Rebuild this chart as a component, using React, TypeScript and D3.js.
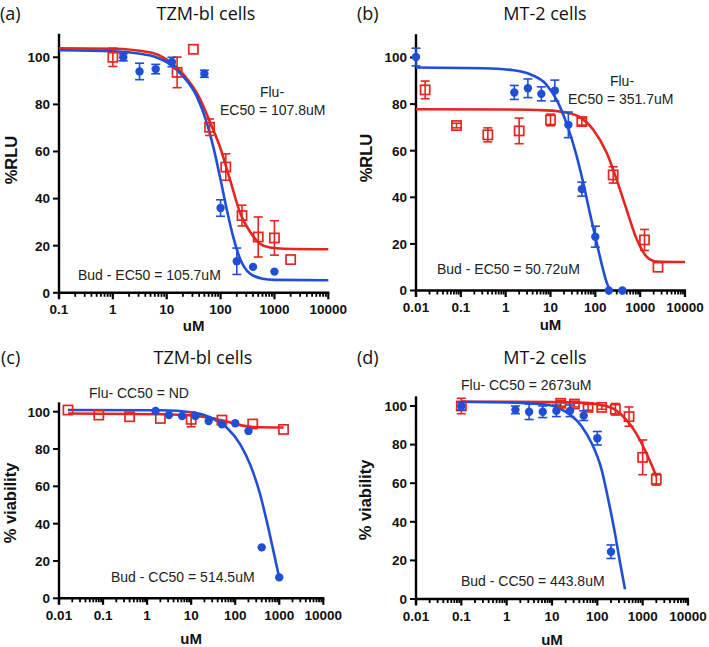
import React from "react";
import * as d3 from "d3";

// ---------- data ----------
const yTickValues = [0, 20, 40, 60, 80, 100];
const xTicksA = [0.1, 1, 10, 100, 1000, 10000];
const xTicksB = [0.01, 0.1, 1, 10, 100, 1000, 10000];
const xTickLabelsA = ["0.1", "1", "10", "100", "1000", "10000"];
const xTickLabelsB = ["0.01", "0.1", "1", "10", "100", "1000", "10000"];

// Panel (a) TZM-bl, %RLU
const aBudX = [1.56, 3.13, 6.25, 12.5, 50, 100, 200, 400, 1000];
const aBudY = [100, 94, 95, 98, 93, 36, 13.4, 11, 9];
const aBudErr = [1.5, 3.5, 2, 2, 1.5, 3.5, 5.6, 0, 0];
const aFluX = [1, 15.6, 31.25, 62.5, 125, 250, 500, 1000, 2000];
const aFluY = [100, 93.6, 103.4, 70.3, 53.4, 32.8, 23.7, 23.3, 14.1];
const aFluErr = [3.9, 6.5, 0, 3.5, 5.6, 4.4, 8.5, 7.3, 0];
const aBudFit: [number, number][] = [[0.1, 103], [1, 102.6], [3, 101.6], [6, 100.2], [11.5, 97], [20, 92], [36, 83.5], [55, 72.5], [75, 61], [100, 48], [130, 35.5], [175, 23], [230, 14.5], [350, 8.2], [600, 6], [1000, 5.5], [10000, 5.3]];
const aFluFit: [number, number][] = [[0.1, 103.8], [1, 103.6], [5, 102], [10, 99], [20, 93], [41, 82.6], [63, 72.7], [97, 62], [150, 48], [230, 34], [350, 26], [540, 20.8], [830, 19.2], [1500, 18.7], [10000, 18.5]];

// Panel (b) MT-2, %RLU
const bBudX = [0.01, 1.56, 3.13, 6.25, 12.5, 25, 50, 100, 200, 400];
const bBudY = [100.2, 85, 86.8, 84.4, 85.8, 71.1, 43.5, 23.1, 0, 0];
const bBudErr = [3.8, 3, 4, 3, 4.5, 5.5, 3, 4.5, 0, 0];
const bFluX = [0.016, 0.08, 0.4, 2, 10, 50, 250, 1250, 2500];
const bFluY = [86.1, 70.8, 66.8, 68.5, 73.2, 72.5, 49.6, 21.7, 10];
const bFluErr = [3.8, 1, 3, 5.5, 2.5, 1.5, 3.5, 4.5, 0];
const bBudFit: [number, number][] = [[0.01, 95.7], [0.3, 95.4], [1.5, 94.5], [3.5, 92.8], [8, 88.5], [14, 81.5], [23, 71.5], [38, 58], [54, 46], [76, 33], [100, 23], [140, 11], [175, 4], [212, 0]];
const bFluFit: [number, number][] = [[0.01, 77.8], [1, 77.7], [8, 77.3], [23, 76.3], [45, 74.4], [90, 69], [180, 59], [300, 47.5], [500, 34.6], [840, 22], [1400, 14.5], [2340, 12.4], [10000, 12.2]];

// Panel (c) TZM-bl, % viability
const cBudX = [1.56, 3.13, 6.25, 12.5, 25, 50, 100, 200, 400, 1000];
const cBudY = [100.4, 98.2, 97.7, 97.7, 95, 93.2, 93.8, 89.7, 27.3, 11.2];
const cBudErr = [0, 0, 0, 0, 0, 0, 0, 0, 0, 0];
const cFluX = [0.016, 0.08, 0.4, 2, 10, 50, 250, 1250];
const cFluY = [100.9, 98.2, 97.3, 96.4, 95.9, 95.5, 93.4, 90.5];
const cFluErr = [0, 0, 0, 0, 4, 0, 0, 0];
const cBudFit: [number, number][] = [[0.016, 100.9], [2, 100.8], [11.3, 99.6], [27, 97], [64, 91.5], [130, 82.5], [220, 71.5], [370, 55.5], [524, 41], [742, 25], [1000, 11]];
const cFluFit: [number, number][] = [[0.016, 99], [2, 98.6], [11, 97.9], [27, 96.8], [64, 94.7], [130, 92.8], [260, 91.8], [1250, 91.5]];

// Panel (d) MT-2, % viability
const dBudX = [0.1, 1.56, 3.13, 6.25, 12.5, 25, 50, 100, 200];
const dBudY = [100, 98, 97, 97, 97.5, 97.5, 95, 83.3, 24.5];
const dBudErr = [2, 2, 4, 3, 3, 3, 2.5, 3.5, 3.5];
const dFluX = [0.1, 15.6, 31.25, 62.5, 125, 250, 500, 1000, 2000];
const dFluY = [100, 101.4, 101, 99.3, 99.3, 98.3, 94.5, 73.4, 62];
const dFluErr = [4, 1.5, 1.5, 1.5, 1, 3, 5, 9, 3];
const dBudFit: [number, number][] = [[0.1, 102.2], [1.5, 101.7], [8.3, 100.5], [19.5, 97.2], [45, 89.5], [75, 80.7], [125, 66.8], [175, 51.3], [245, 34], [316, 19], [408, 5]];
const dFluFit: [number, number][] = [[0.1, 102.2], [10, 102], [60, 101.5], [125, 100.5], [250, 98], [408, 93.6], [680, 86.7], [1120, 77.2], [1580, 69.4], [2000, 63.5]];

// ---------- styling / layout ----------
const BLUE = "#1f4fd6";
const RED = "#e4261f";
const AXIS_FONT = "'Liberation Sans', Arial, sans-serif";
const TITLE_FONT = "'Open Sans', 'Noto Sans', sans-serif";

type Note = { text: string; x: number; y: number; anchor?: string };
type Panel = {
  label: string; labelX: number; title: string; titleX: number; titleY: number;
  yTitle: string; yTitleX: number; yTitleY: number;
  xTicks: number[]; xLabels: string[];
  xRange: [number, number]; y0: number; y100: number; yMax: number; uMOffset: number;
  bud: { x: number[]; y: number[]; e: number[] }; flu: { x: number[]; y: number[]; e: number[] };
  budFit: [number, number][]; fluFit: [number, number][];
  notes: Note[];
};

const panels: Panel[] = [
  {
    label: "(a)", labelX: 0, title: "TZM-bl cells", titleX: 206, titleY: 20,
    yTitle: "%RLU", yTitleX: 17, yTitleY: 160,
    xTicks: xTicksA, xLabels: xTickLabelsA, xRange: [59, 328.3], y0: 292.8, y100: 57.3, yMax: 110, uMOffset: 38,
    bud: { x: aBudX, y: aBudY, e: aBudErr }, flu: { x: aFluX, y: aFluY, e: aFluErr },
    budFit: aBudFit, fluFit: aFluFit,
    notes: [
      { text: "Flu-", x: 272, y: 97, anchor: "middle" },
      { text: "EC50 = 107.8uM", x: 220, y: 114.5 },
      { text: "Bud - EC50 = 105.7uM", x: 78, y: 280 },
    ],
  },
  {
    label: "(b)", labelX: 357, title: "MT-2 cells", titleX: 545, titleY: 20,
    yTitle: "%RLU", yTitleX: 372, yTitleY: 158,
    xTicks: xTicksB, xLabels: xTickLabelsB, xRange: [416, 685], y0: 290.5, y100: 57.5, yMax: 110, uMOffset: 39,
    bud: { x: bBudX, y: bBudY, e: bBudErr }, flu: { x: bFluX, y: bFluY, e: bFluErr },
    budFit: bBudFit, fluFit: bFluFit,
    notes: [
      { text: "Flu-", x: 622, y: 85.5, anchor: "middle" },
      { text: "EC50 = 351.7uM", x: 568, y: 104 },
      { text: "Bud - EC50 = 50.72uM", x: 437, y: 273.5 },
    ],
  },
  {
    label: "(c)", labelX: 1, title: "TZM-bl cells", titleX: 203, titleY: 364,
    yTitle: "% viability", yTitleX: 16, yTitleY: 503,
    xTicks: xTicksB, xLabels: xTickLabelsB, xRange: [59, 323.3], y0: 598.3, y100: 411.7, yMax: 105, uMOffset: 46,
    bud: { x: cBudX, y: cBudY, e: cBudErr }, flu: { x: cFluX, y: cFluY, e: cFluErr },
    budFit: cBudFit, fluFit: cFluFit,
    notes: [
      { text: "Flu- CC50 = ND", x: 89, y: 398 },
      { text: "Bud - CC50 = 514.5uM", x: 111, y: 582 },
    ],
  },
  {
    label: "(d)", labelX: 357, title: "MT-2 cells", titleX: 545, titleY: 364,
    yTitle: "% viability", yTitleX: 371, yTitleY: 500,
    xTicks: xTicksB, xLabels: xTickLabelsB, xRange: [416, 688], y0: 599, y100: 406, yMax: 105, uMOffset: 46,
    bud: { x: dBudX, y: dBudY, e: dBudErr }, flu: { x: dFluX, y: dFluY, e: dFluErr },
    budFit: dBudFit, fluFit: dFluFit,
    notes: [
      { text: "Flu- CC50 = 2673uM", x: 461, y: 390 },
      { text: "Bud - CC50 = 443.8uM", x: 461, y: 586 },
    ],
  },
];

function PanelView({ p }: { p: Panel }) {
  const xDom: [number, number] = [p.xTicks[0], p.xTicks[p.xTicks.length - 1]];
  const xs = d3.scaleLog().domain(xDom).range(p.xRange);
  const ys = d3.scaleLinear().domain([0, 100]).range([p.y0, p.y100]);
  const line = d3
    .line<[number, number]>()
    .x((d) => xs(d[0]))
    .y((d) => ys(d[1]))
    .curve(d3.curveMonotoneX);

  const minor: number[] = [];
  for (let i = 0; i < p.xTicks.length - 1; i++) {
    for (let m = 2; m <= 9; m++) minor.push(p.xTicks[i] * m);
  }
  const axisX = p.xRange[0];
  const axisW = 2.4;

  const errBars = (s: { x: number[]; y: number[]; e: number[] }, color: string) =>
    s.x.map((xv, i) =>
      s.e[i] > 0 ? (
        <g key={"e" + i} stroke={color} strokeWidth={1.6}>
          <line x1={xs(xv)} x2={xs(xv)} y1={ys(s.y[i] - s.e[i])} y2={ys(s.y[i] + s.e[i])} />
          <line x1={xs(xv) - 4.5} x2={xs(xv) + 4.5} y1={ys(s.y[i] - s.e[i])} y2={ys(s.y[i] - s.e[i])} />
          <line x1={xs(xv) - 4.5} x2={xs(xv) + 4.5} y1={ys(s.y[i] + s.e[i])} y2={ys(s.y[i] + s.e[i])} />
        </g>
      ) : null
    );

  return (
    <g>
      <text x={p.labelX} y={p.titleY} fontFamily={TITLE_FONT} fontSize={18} fill="#111">{p.label}</text>
      <text x={p.titleX} y={p.titleY} fontFamily={TITLE_FONT} fontSize={18} fill="#111" textAnchor="middle">{p.title}</text>

      {/* axes */}
      <g stroke="#000">
        <line x1={axisX} x2={axisX} y1={ys(p.yMax)} y2={p.y0 + 6} strokeWidth={axisW} />
        <line x1={p.xRange[0] - 1} x2={p.xRange[1] + 1} y1={p.y0} y2={p.y0} strokeWidth={axisW} />
        {yTickValues.map((t) => (
          <line key={"yt" + t} x1={axisX - 6} x2={axisX} y1={ys(t)} y2={ys(t)} strokeWidth={2} />
        ))}
        {p.xTicks.map((t) => (
          <line key={"xt" + t} x1={xs(t)} x2={xs(t)} y1={p.y0} y2={p.y0 + 6.5} strokeWidth={2.2} />
        ))}
        {minor.map((t) => (
          <line key={"xm" + t} x1={xs(t)} x2={xs(t)} y1={p.y0} y2={p.y0 + 4} strokeWidth={1.8} />
        ))}
      </g>
      <g fontFamily={AXIS_FONT} fontWeight="bold" fontSize={13.5} fill="#111">
        {yTickValues.map((t) => (
          <text key={"yl" + t} x={axisX - 9} y={ys(t)} dy="0.36em" textAnchor="end">{t}</text>
        ))}
        {p.xTicks.map((t, i) => (
          <text key={"xl" + t} x={xs(t)} y={p.y0 + 21.5} textAnchor="middle">{p.xLabels[i]}</text>
        ))}
        <text x={(p.xRange[0] + p.xRange[1]) / 2} y={p.y0 + p.uMOffset} textAnchor="middle" fontSize={15}>uM</text>
        <text transform={`translate(${p.yTitleX},${p.yTitleY}) rotate(-90)`} textAnchor="middle" fontSize={16.5}>{p.yTitle}</text>
      </g>

      {/* fitted curves */}
      <path d={line(p.fluFit) || ""} fill="none" stroke={RED} strokeWidth={2.6} />
      <path d={line(p.budFit) || ""} fill="none" stroke={BLUE} strokeWidth={2.6} />

      {/* data */}
      {errBars(p.flu, RED)}
      {p.flu.x.map((xv, i) => (
        <rect key={"fs" + i} x={xs(xv) - 4.6} y={ys(p.flu.y[i]) - 4.6} width={9.2} height={9.2} fill="none" stroke={RED} strokeWidth={1.7} />
      ))}
      {errBars(p.bud, BLUE)}
      {p.bud.x.map((xv, i) => (
        <circle key={"bc" + i} cx={xs(xv)} cy={ys(p.bud.y[i])} r={4.2} fill={BLUE} />
      ))}

      <g fontFamily={AXIS_FONT} fontSize={14} fill="#222">
        {p.notes.map((n, i) => (
          <text key={"n" + i} x={n.x} y={n.y} textAnchor={n.anchor || "start"}>{n.text}</text>
        ))}
      </g>
    </g>
  );
}

export default function App() {
  return (
    <svg
      width={709}
      height={647}
      viewBox="0 0 709 647"
      style={{ position: "absolute", left: 0, top: 0, background: "#fff" }}
    >
      <rect width={709} height={647} fill="#fff" />
      {panels.map((p) => (
        <PanelView key={p.label} p={p} />
      ))}
    </svg>
  );
}
